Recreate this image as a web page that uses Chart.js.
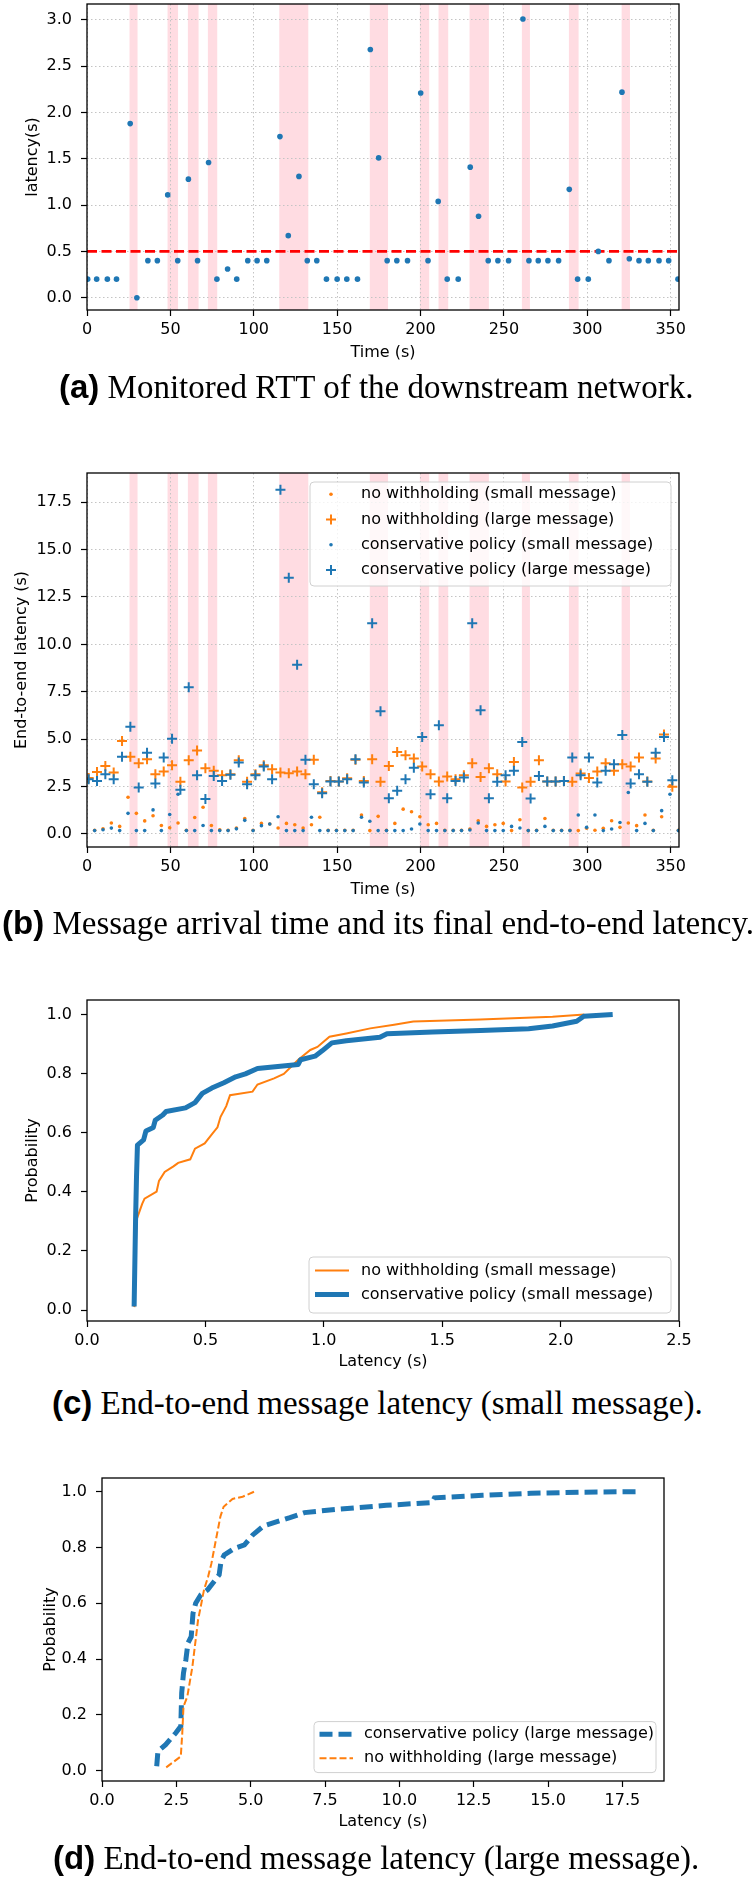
<!DOCTYPE html>
<html>
<head>
<meta charset="utf-8">
<script src="https://cdn.jsdelivr.net/npm/chart.js@4.4.1/dist/chart.umd.min.js"></script>
<style>
  body { margin: 0; width: 753px; height: 1878px; position: relative; background: #fff; overflow: hidden; }
  canvas { position: absolute; left: 0; }
  .caption { position: absolute; font-family: "Liberation Serif", "Times New Roman", serif; font-size: 33px; line-height: 40px; white-space: nowrap; color: #000; }
  .caption b { font-family: "Liberation Sans", Arial, sans-serif; }
</style>
</head>
<body>
<canvas id="rttChart" width="753" height="392" style="top:-20px"></canvas>
<canvas id="e2eChart" width="753" height="455" style="top:450px"></canvas>
<canvas id="smallChart" width="753" height="400" style="top:980px"></canvas>
<canvas id="largeChart" width="753" height="380" style="top:1460px"></canvas>

<div class="caption" style="left:59px; top:367px"><b>(a)</b> Monitored RTT of the downstream network.</div>
<div class="caption" style="left:2px; top:903px"><b>(b)</b> Message arrival time and its final end-to-end latency.</div>
<div class="caption" style="left:52px; top:1383px"><b>(c)</b> End-to-end message latency (small message).</div>
<div class="caption" style="left:53px; top:1838px"><b>(d)</b> End-to-end message latency (large message).</div>

<script>
// ---- data ----
const spanStart = [25.5, 48.3, 60.5, 72.5, 115.3, 169.6, 199.6, 210.8, 229.4, 260.8, 289.0, 320.6];
const spanEnd   = [30.3, 54.6, 66.9, 78.1, 132.7, 180.5, 205.2, 216.6, 241.0, 265.6, 294.8, 325.6];

const rttTime = [0.4, 5.8, 12.2, 17.7, 25.9, 29.9, 36.5, 42.2, 48.4, 54.4, 60.8, 66.3, 72.9, 77.9, 84.3, 89.8,
  96.4, 102.0, 107.8, 115.7, 120.7, 127.1, 132.1, 137.8, 143.6, 150.0, 155.8, 162.2, 169.9, 174.9, 180.0, 185.8,
  192.2, 200.1, 204.5, 210.6, 216.0, 222.6, 229.8, 234.8, 240.6, 246.4, 252.8, 261.4, 265.0, 270.6, 276.4, 282.8,
  289.2, 294.2, 300.6, 306.6, 313.0, 320.8, 325.2, 331.0, 336.6, 343.0, 348.8, 354.4];
const rttValue = [0.2, 0.2, 0.2, 0.2, 1.88, 0.0, 0.4, 0.4, 1.11, 0.4, 1.28, 0.4, 1.46, 0.2, 0.31, 0.2,
  0.4, 0.4, 0.4, 1.74, 0.67, 1.31, 0.4, 0.4, 0.2, 0.2, 0.2, 0.2, 2.68, 1.51, 0.4, 0.4,
  0.4, 2.21, 0.4, 1.04, 0.2, 0.2, 1.41, 0.88, 0.4, 0.4, 0.4, 3.01, 0.4, 0.4, 0.4, 0.4,
  1.17, 0.2, 0.2, 0.5, 0.4, 2.22, 0.42, 0.4, 0.4, 0.4, 0.4, 0.2];
const rttThreshold = 0.5;

const largeTime = [1, 6, 11, 16, 21, 26, 31, 36, 41, 46, 51, 56, 61, 66, 71, 76, 81, 86, 91, 96, 101, 106, 111, 116,
  121, 126, 131, 136, 141, 146, 151, 156, 161, 166, 171, 176, 181, 186, 191, 196, 201, 206, 211, 216, 221, 226, 231,
  236, 241, 246, 251, 256, 261, 266, 271, 276, 281, 286, 291, 296, 301, 306, 311, 316, 321, 326, 331, 336, 341, 346, 351];
const smallTime = [4.6, 9.6, 14.6, 19.6, 24.6, 29.6, 34.6, 39.6, 44.6, 49.6, 54.6, 59.6, 64.6, 69.6, 74.6, 79.6,
  84.6, 89.6, 94.6, 99.6, 104.6, 109.6, 114.6, 119.6, 124.6, 129.6, 134.6, 139.6, 144.6, 149.6, 154.6, 159.6,
  164.6, 169.6, 174.6, 179.6, 184.6, 189.6, 194.6, 199.6, 204.6, 209.6, 214.6, 219.6, 224.6, 229.6, 234.6, 239.6,
  244.6, 249.6, 254.6, 259.6, 264.6, 269.6, 274.6, 279.6, 284.6, 289.6, 294.6, 299.6, 304.6, 309.6, 314.6, 319.6,
  324.6, 329.6, 334.6, 339.6, 344.6, 349.6, 354.6];

const noWithSmall = [0.20, 0.27, 0.58, 0.40, 1.94, 1.09, 0.69, 0.96, 0.45, 0.33, 0.58, 0.20, 0.87, 1.41, 0.45, 0.22,
  0.20, 0.31, 0.82, 0.20, 0.56, 0.53, 0.32, 0.56, 0.49, 0.32, 0.49, 0.88, 0.20, 0.20, 0.20, 0.20, 1.00, 0.18, 0.93,
  0.20, 0.56, 1.31, 1.17, 0.91, 0.49, 0.56, 0.20, 0.20, 0.20, 0.26, 0.70, 0.40, 0.49, 0.56, 0.18, 0.75, 0.18, 0.20,
  0.82, 0.20, 0.20, 0.20, 0.18, 0.30, 0.20, 0.30, 0.70, 0.35, 0.58, 0.44, 1.00, 0.20, 0.91, 2.54, 0.20];
const noWithLarge = [2.95, 3.27, 3.59, 3.24, 4.90, 4.08, 3.73, 3.94, 3.15, 3.29, 3.63, 2.75, 3.89, 4.41, 3.47, 3.33,
  3.10, 3.15, 3.89, 2.75, 3.15, 3.63, 3.42, 3.24, 3.20, 3.29, 3.15, 3.91, 2.20, 2.80, 2.77, 2.94, 3.91, 2.80, 3.94,
  2.75, 3.59, 4.33, 4.15, 3.98, 3.56, 3.15, 2.77, 3.03, 2.89, 3.10, 3.73, 3.01, 3.47, 3.15, 2.77, 3.80, 2.45, 2.75,
  3.89, 2.77, 2.77, 2.80, 2.75, 3.19, 2.95, 3.29, 3.73, 3.33, 3.68, 3.56, 4.03, 2.77, 3.98, 5.25, 2.49];
const consSmall = [0.18, 0.22, 0.31, 0.18, 1.09, 0.18, 0.18, 1.27, 0.18, 1.03, 2.10, 0.18, 0.18, 0.45, 0.18, 0.18,
  0.18, 0.27, 0.72, 0.18, 0.44, 0.53, 0.91, 0.18, 0.18, 0.18, 0.88, 0.18, 0.18, 0.18, 0.18, 0.18, 0.88, 0.67, 0.18,
  0.18, 0.18, 0.18, 0.26, 0.53, 0.18, 0.18, 0.18, 0.18, 0.18, 0.21, 0.58, 0.18, 0.18, 0.18, 0.40, 0.32, 0.18, 0.18,
  0.40, 0.18, 0.18, 0.18, 1.00, 0.35, 1.00, 0.18, 0.26, 0.61, 2.19, 0.18, 0.56, 0.18, 1.23, 2.10, 0.18];
const consLarge = [2.89, 2.80, 3.15, 2.89, 4.08, 5.66, 2.45, 4.29, 2.66, 4.03, 5.03, 2.33, 7.74, 3.10, 1.84, 3.06,
  2.80, 3.12, 3.77, 2.63, 3.10, 3.56, 2.89, 18.15, 13.52, 8.93, 3.91, 2.63, 2.15, 2.77, 2.77, 2.89, 3.94, 2.71, 11.12,
  6.48, 1.89, 2.28, 2.89, 3.50, 5.11, 2.10, 5.74, 1.89, 2.80, 2.98, 11.12, 6.53, 1.89, 2.75, 3.10, 3.33, 4.85, 1.87,
  3.06, 2.77, 2.77, 2.80, 4.03, 3.10, 4.03, 2.71, 3.33, 3.68, 5.22, 2.66, 3.15, 2.75, 4.29, 5.11, 2.84];

// CDF curves (latency, probability)
const cdfSmallNoWithX = [0.20, 0.209, 0.233, 0.243, 0.294, 0.304, 0.328, 0.365, 0.385, 0.436, 0.456, 0.497, 0.527, 0.551,
  0.564, 0.588, 0.604, 0.699, 0.72, 0.79, 0.831, 0.862, 0.892, 0.943, 0.973, 1.024, 1.095, 1.196, 1.297, 1.378, 1.66, 1.966, 2.10];
const cdfSmallNoWithY = [0.01, 0.305, 0.359, 0.377, 0.401, 0.437, 0.467, 0.486, 0.498, 0.510, 0.546, 0.564, 0.594, 0.618,
  0.654, 0.690, 0.727, 0.739, 0.763, 0.784, 0.799, 0.823, 0.847, 0.880, 0.89, 0.925, 0.936, 0.953, 0.965, 0.976, 0.983, 0.992, 1.0];
const cdfSmallConsX = [0.199, 0.205, 0.209, 0.213, 0.239, 0.249, 0.28, 0.288, 0.320, 0.334, 0.416, 0.456, 0.487, 0.527,
  0.578, 0.628, 0.669, 0.72, 0.892, 0.902, 0.963, 0.993, 1.034, 1.095, 1.237, 1.267, 1.46, 1.662, 1.865, 1.966, 2.068, 2.098, 2.22];
const cdfSmallConsY = [0.012, 0.30, 0.449, 0.558, 0.576, 0.606, 0.618, 0.642, 0.660, 0.672, 0.684, 0.702, 0.733, 0.751,
  0.769, 0.789, 0.799, 0.817, 0.831, 0.847, 0.859, 0.877, 0.904, 0.911, 0.923, 0.935, 0.941, 0.946, 0.952, 0.961, 0.977, 0.994, 1.0];

const cdfLargeConsX = [1.84, 1.88, 2.14, 2.48, 2.65, 2.68, 2.74, 2.82, 2.89, 3.0, 3.06, 3.15, 3.32, 3.55, 3.77, 3.94, 4.0,
  4.11, 4.45, 4.79, 5.07, 5.43, 6.32, 6.81, 7.94, 9.56, 11.10, 11.18, 12.80, 14.42, 16.04, 17.95];
const cdfLargeConsY = [0.016, 0.069, 0.093, 0.135, 0.159, 0.278, 0.35, 0.397, 0.457, 0.48, 0.564, 0.60, 0.63, 0.648, 0.678,
  0.702, 0.749, 0.773, 0.797, 0.809, 0.845, 0.877, 0.907, 0.925, 0.937, 0.951, 0.961, 0.978, 0.987, 0.994, 0.998, 1.0];
const cdfLargeNoWithX = [2.16, 2.65, 2.70, 2.74, 2.87, 3.04, 3.15, 3.23, 3.32, 3.43, 3.57, 3.68, 3.83, 3.98, 4.09, 4.39, 4.73, 5.12];
const cdfLargeNoWithY = [0.012, 0.051, 0.135, 0.23, 0.266, 0.373, 0.469, 0.54, 0.588, 0.648, 0.696, 0.743, 0.827, 0.91,
  0.946, 0.974, 0.982, 1.0];

// ticks
const timeTicks = [0, 50, 100, 150, 200, 250, 300, 350];
const rttTicks = [0, 0.5, 1.0, 1.5, 2.0, 2.5, 3.0];
const e2eTicks = [0, 2.5, 5.0, 7.5, 10.0, 12.5, 15.0, 17.5];
const probTicks = [0, 0.2, 0.4, 0.6, 0.8, 1.0];
const smallLatTicks = [0, 0.5, 1.0, 1.5, 2.0, 2.5];
const largeLatTicks = [0, 2.5, 5.0, 7.5, 10.0, 12.5, 15.0, 17.5];

// ---- styling ----
const BLUE = '#1f77b4';
const ORANGE = '#ff7f0e';
const FONT = 16;
const LINE_H = FONT * 1.2;
Chart.defaults.font.family = '"DejaVu Sans", sans-serif';
Chart.defaults.font.size = FONT;
Chart.defaults.color = '#000';

const pts = (xs, ys) => xs.map((x, i) => ({ x: x, y: ys[i] }));
const fmt1 = v => v.toFixed(1);
const fmt0 = v => String(v);

const frame = {
    id: 'frame',
    afterDatasetsDraw(chart) {
        const a = chart.chartArea;
        const ctx = chart.ctx;
        ctx.save();
        ctx.strokeStyle = '#000';
        ctx.lineWidth = 1.3;
        ctx.strokeRect(a.left, a.top, a.right - a.left, a.bottom - a.top);
        ctx.restore();
    }
};

// shaded periods behind the grid
const spans = {
    id: 'spans',
    beforeDraw(chart, args, opts) {
        if (!opts.show) return;
        const a = chart.chartArea;
        const x = chart.scales.x;
        const ctx = chart.ctx;
        ctx.save();
        ctx.fillStyle = 'rgba(255,192,203,0.55)';
        spanStart.forEach((s, i) => {
            const x0 = x.getPixelForValue(s);
            const x1 = x.getPixelForValue(spanEnd[i]);
            ctx.fillRect(x0, a.top, x1 - x0, a.bottom - a.top);
        });
        ctx.restore();
    }
};

// matplotlib-like legend box
const boxLegend = {
    id: 'boxLegend',
    afterDraw(chart, args, o) {
        if (!o.rows) return;
        const ctx = chart.ctx;
        const top = o.canvasTop;
        ctx.save();
        ctx.beginPath();
        ctx.roundRect(o.x, o.y - top, o.w, o.h, 4);
        ctx.fillStyle = 'rgba(255,255,255,0.8)';
        ctx.fill();
        ctx.strokeStyle = '#d0d0d0';
        ctx.lineWidth = 1;
        ctx.stroke();
        ctx.font = FONT + 'px "DejaVu Sans"';
        ctx.textBaseline = 'middle';
        o.order.forEach((di, r) => {
            const ds = chart.data.datasets[di];
            const y = o.rows[r] - top;
            if (ds.showLine) {
                ctx.beginPath();
                ctx.setLineDash(ds.borderDash || []);
                ctx.lineWidth = ds.borderWidth;
                ctx.strokeStyle = ds.borderColor;
                ctx.moveTo(o.markX, y);
                ctx.lineTo(o.markX2, y);
                ctx.stroke();
                ctx.setLineDash([]);
            } else if (ds.pointStyle === 'cross') {
                const r0 = ds.pointRadius;
                ctx.beginPath();
                ctx.lineWidth = ds.borderWidth;
                ctx.strokeStyle = ds.borderColor;
                ctx.moveTo(o.markX - r0, y); ctx.lineTo(o.markX + r0, y);
                ctx.moveTo(o.markX, y - r0); ctx.lineTo(o.markX, y + r0);
                ctx.stroke();
            } else {
                ctx.beginPath();
                ctx.fillStyle = ds.backgroundColor;
                ctx.arc(o.markX, y, ds.pointRadius, 0, Math.PI * 2);
                ctx.fill();
            }
            ctx.fillStyle = '#000';
            ctx.fillText(ds.label, o.textX, y);
        });
        ctx.restore();
    }
};

// p: plot box in page pixels; c: canvas top/bottom in page pixels
function axes(p, c, x, y, grid) {
    const axis = (ticksArr, fmt, pad) => ({
        type: 'linear',
        bounds: 'data',
        afterBuildTicks: s => { s.ticks = ticksArr.map(v => ({ value: v })); },
        ticks: { autoSkip: false, maxRotation: 0, padding: pad, callback: v => fmt(v) },
        grid: { drawOnChartArea: grid, color: '#c4c4c4', lineWidth: 1, tickLength: 6, tickColor: '#000', tickWidth: 1.2 },
        border: { display: false, dash: [1.5, 2.5] }
    });
    const xs = axis(x.ticks, x.fmt, 4);
    xs.min = x.min; xs.max = x.max;
    xs.title = { display: true, text: x.title, padding: { top: 0, bottom: c.bottom - x.titleAt - LINE_H / 2 } };
    xs.afterFit = s => { s.height = c.bottom - p.bottom; s.paddingLeft = 0; s.paddingRight = 0; };
    const ys = axis(y.ticks, y.fmt, 9);
    ys.min = y.min; ys.max = y.max;
    ys.title = { display: true, text: y.title, padding: { top: y.titleAt - LINE_H / 2, bottom: 0 } };
    ys.afterFit = s => { s.width = p.left; s.paddingTop = 0; s.paddingBottom = 0; };
    return { x: xs, y: ys };
}

function baseOptions(p, c, scales, legend, showSpans) {
    return {
        responsive: false,
        animation: false,
        events: [],
        layout: { padding: { top: p.top - c.top, right: 753 - p.right, left: 0, bottom: 0 } },
        scales: scales,
        plugins: {
            legend: { display: false },
            tooltip: { enabled: false },
            spans: { show: showSpans },
            boxLegend: legend || {}
        }
    };
}

// ---- (a) RTT ----
const pA = { left: 87, right: 679, top: 4, bottom: 310 };
const cA = { top: -20, bottom: 372 };
new Chart(document.getElementById('rttChart'), {
    type: 'scatter',
    data: {
        datasets: [{
            label: 'rtt',
            data: pts(rttTime, rttValue),
            backgroundColor: BLUE,
            pointRadius: 2.8,
            pointBorderWidth: 0,
            clip: 0,
            order: 0
        }, {
            label: 'threshold',
            data: [{ x: 0, y: rttThreshold }, { x: 355, y: rttThreshold }],
            showLine: true,
            borderColor: '#ff0000',
            borderWidth: 2.8,
            borderDash: [10, 4.5],
            pointRadius: 0,
            order: 1
        }]
    },
    options: baseOptions(pA, cA, axes(pA, cA,
        { ticks: timeTicks, fmt: fmt0, min: 0, max: 355, title: 'Time (s)', titleAt: 353 },
        { ticks: rttTicks, fmt: fmt1, min: -0.133, max: 3.172, title: 'latency(s)', titleAt: 33 }, true), null, true),
    plugins: [spans, frame, boxLegend]
});

// ---- (b) end-to-end latency over time ----
const pB = { left: 87, right: 679, top: 473, bottom: 847 };
const cB = { top: 450, bottom: 905 };
new Chart(document.getElementById('e2eChart'), {
    type: 'scatter',
    data: {
        datasets: [{
            label: 'no withholding (small message)',
            data: pts(smallTime, noWithSmall),
            backgroundColor: ORANGE, pointRadius: 1.8, pointBorderWidth: 0, clip: 0, order: 3
        }, {
            label: 'no withholding (large message)',
            data: pts(largeTime, noWithLarge),
            pointStyle: 'cross', borderColor: ORANGE, borderWidth: 2, pointRadius: 5, clip: 0, order: 2
        }, {
            label: 'conservative policy (small message)',
            data: pts(smallTime, consSmall),
            backgroundColor: BLUE, pointRadius: 1.8, pointBorderWidth: 0, clip: 0, order: 1
        }, {
            label: 'conservative policy (large message)',
            data: pts(largeTime, consLarge),
            pointStyle: 'cross', borderColor: BLUE, borderWidth: 2, pointRadius: 5, clip: 0, order: 0
        }]
    },
    options: baseOptions(pB, cB, axes(pB, cB,
        { ticks: timeTicks, fmt: fmt0, min: 0, max: 355, title: 'Time (s)', titleAt: 890 },
        { ticks: e2eTicks, fmt: fmt1, min: -0.686, max: 19.04, title: 'End-to-end latency (s)', titleAt: 21.7 }, true),
        { canvasTop: cB.top, x: 310, y: 482, w: 361, h: 104, rows: [494.3, 519.5, 544.7, 570], order: [0, 1, 2, 3], markX: 331, markX2: 331, textX: 361 },
        true),
    plugins: [spans, frame, boxLegend]
});

// ---- (c) CDF small message ----
const pC = { left: 87, right: 679, top: 1000, bottom: 1321 };
const cC = { top: 980, bottom: 1380 };
new Chart(document.getElementById('smallChart'), {
    type: 'scatter',
    data: {
        datasets: [{
            label: 'no withholding (small message)',
            data: pts(cdfSmallNoWithX, cdfSmallNoWithY),
            showLine: true, borderColor: ORANGE, borderWidth: 2, pointRadius: 0, clip: 0, order: 1
        }, {
            label: 'conservative policy (small message)',
            data: pts(cdfSmallConsX, cdfSmallConsY),
            showLine: true, borderColor: BLUE, borderWidth: 5, borderJoinStyle: 'round', pointRadius: 0, clip: 0, order: 0
        }]
    },
    options: baseOptions(pC, cC, axes(pC, cC,
        { ticks: smallLatTicks, fmt: fmt1, min: 0, max: 2.5, title: 'Latency (s)', titleAt: 1362 },
        { ticks: probTicks, fmt: fmt1, min: -0.037, max: 1.049, title: 'Probability', titleAt: 32.7 }, false),
        { canvasTop: cC.top, x: 309, y: 1257, w: 362, h: 56, rows: [1270.4, 1294.6], order: [0, 1], markX: 315, markX2: 349, textX: 361 },
        false),
    plugins: [spans, frame, boxLegend]
});

// ---- (d) CDF large message ----
const pD = { left: 102, right: 664, top: 1478, bottom: 1781 };
const cD = { top: 1460, bottom: 1840 };
new Chart(document.getElementById('largeChart'), {
    type: 'scatter',
    data: {
        datasets: [{
            label: 'conservative policy (large message)',
            data: pts(cdfLargeConsX, cdfLargeConsY),
            showLine: true, borderColor: BLUE, borderWidth: 5, borderDash: [13, 6], pointRadius: 0, clip: 0, order: 1
        }, {
            label: 'no withholding (large message)',
            data: pts(cdfLargeNoWithX, cdfLargeNoWithY),
            showLine: true, borderColor: ORANGE, borderWidth: 2, borderDash: [7, 3], pointRadius: 0, clip: 0, order: 0
        }]
    },
    options: baseOptions(pD, cD, axes(pD, cD,
        { ticks: largeLatTicks, fmt: fmt1, min: 0, max: 18.9, title: 'Latency (s)', titleAt: 1821.7 },
        { ticks: probTicks, fmt: fmt1, min: -0.037, max: 1.049, title: 'Probability', titleAt: 50.7 }, false),
        { canvasTop: cD.top, x: 314, y: 1721.6, w: 342, h: 51, rows: [1734.2, 1758.3], order: [0, 1], markX: 319.5, markX2: 353, textX: 364 },
        false),
    plugins: [spans, frame, boxLegend]
});
</script>
</body>
</html>
